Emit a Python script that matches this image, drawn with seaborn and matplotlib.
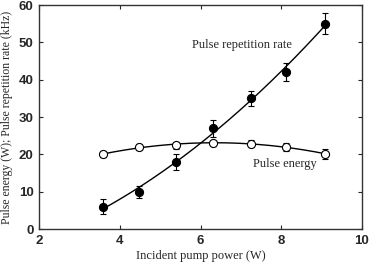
import numpy as np
import pandas as pd
import matplotlib
matplotlib.use('Agg')
import matplotlib.pyplot as plt
import seaborn as sns

# values
pump_power = [3.58, 4.48, 5.39, 6.32, 7.26, 8.11, 9.08]
rep_rate = [6.0, 10.0, 18.0, 27.0, 35.0, 42.0, 55.0]
rep_rate_err = [2.0, 1.6, 2.2, 2.2, 2.0, 2.4, 2.8]
pulse_energy = [20.1, 22.0, 22.5, 23.1, 22.9, 22.1, 20.1]
pulse_energy_err = [0.9, 0.7, 0.9, 0.9, 0.9, 1.1, 1.4]

df = pd.DataFrame({'power': pump_power, 'rate': rep_rate, 'energy': pulse_energy})

# smooth fitted curves through the points
xfit = np.linspace(min(pump_power), max(pump_power), 200)
fit = pd.DataFrame({
    'power': xfit,
    'rate': np.polyval(np.polyfit(pump_power, rep_rate, 2), xfit),
    'energy': np.polyval(np.polyfit(pump_power, pulse_energy, 2), xfit),
})

sns.set_style('ticks')
fig = plt.figure(figsize=(3.69, 2.65), dpi=100)
ax = fig.add_axes([0.106, 0.135, 0.875, 0.846])

sns.lineplot(data=fit, x='power', y='rate', color='black', lw=1.0, ax=ax)
sns.lineplot(data=fit, x='power', y='energy', color='black', lw=1.0, ax=ax)

ax.errorbar(pump_power, rep_rate, yerr=rep_rate_err, fmt='none', ecolor='black',
            elinewidth=0.8, capsize=2.5, capthick=0.8)
ax.errorbar(pump_power, pulse_energy, yerr=pulse_energy_err, fmt='none', ecolor='black',
            elinewidth=0.8, capsize=2.5, capthick=0.8)

sns.scatterplot(data=df, x='power', y='rate', color='black', edgecolor='black',
                s=34, linewidth=0.8, ax=ax, zorder=5)
sns.scatterplot(data=df, x='power', y='energy', color='white', edgecolor='black',
                s=34, linewidth=0.8, ax=ax, zorder=5)

ax.text(5.8, 49.4, 'Pulse repetition rate', family='Liberation Serif', fontsize=9,
        va='center', ha='left')
ax.text(7.3, 17.4, 'Pulse energy', family='Liberation Serif', fontsize=9,
        va='center', ha='left')

ax.set_xlim(2, 10)
ax.set_ylim(0, 60)
ax.set_xticks([2, 4, 6, 8, 10])
ax.set_yticks([0, 10, 20, 30, 40, 50, 60])
ax.tick_params(direction='in', top=True, right=True, length=3, width=0.8, pad=4)
for lab in ax.get_xticklabels() + ax.get_yticklabels():
    lab.set_family('Liberation Sans')
    lab.set_fontweight('bold')
    lab.set_fontsize(9.5)
for sp in ax.spines.values():
    sp.set_linewidth(1.0)
    sp.set_color('#333333')

ax.set_xlabel('Incident pump power (W)', family='Liberation Serif', fontsize=9, labelpad=2)
ax.set_ylabel('Pulse energy (W); Pulse repetition rate (kHz)', family='Liberation Serif',
              fontsize=8.5, labelpad=4)

fig.savefig('out.png', dpi=100)
